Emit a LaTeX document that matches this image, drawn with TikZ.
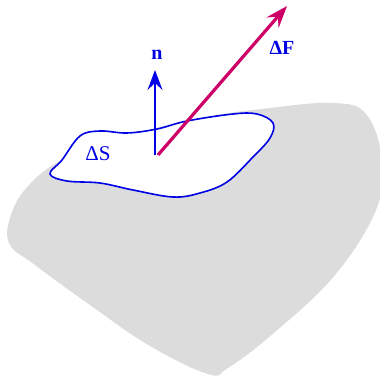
\documentclass[tikz,border=0pt]{standalone}
\usepackage{fontspec}
\setmainfont{Liberation Serif}
\usetikzlibrary{arrows.meta}
\definecolor{blueline}{RGB}{0,0,230}
\definecolor{redline}{RGB}{204,0,102}
\definecolor{graybody}{RGB}{220,220,220}
\tikzset{
  lbl/.style={text=blueline, font=\fontsize{21}{21}\selectfont, inner sep=0pt},
  normalarrow/.style={draw=blueline, line width=1.6pt, -{Stealth[length=20pt, width=15pt, inset=7pt]}},
  forcearrow/.style={draw=redline, line width=3.2pt, -{Stealth[length=22pt, width=16pt, inset=8pt]}}
}
\begin{document}
\begin{tikzpicture}[x=1pt, y=-1pt]
\useasboundingbox (0,0) rectangle (380,377);
% body
\fill[graybody] plot[smooth cycle, tension=0.65] coordinates {
  (120,138) (200,118) (270,108) (333,103) (366,114) (382,160)
  (376,210) (335,275) (275,332) (228,368) (208,374) (150,346)
  (90,305) (35,265) (9,243) (12,212) (30,184) (62,160)};
% surface patch
\draw[blueline, line width=1.6pt, fill=white] plot[smooth cycle, tension=0.6] coordinates {
  (50,174) (62,160) (80,136) (100,131) (127,133) (157,129) (187,121)
  (233,114) (257,114) (273,123) (270,138) (253,157) (227,182)
  (200,193) (173,197) (133,190) (100,183) (67,181)};
\coordinate (o) at (155,155);
\coordinate (ntip) at (155,70);
\coordinate (fo) at (158,155);
\coordinate (ftip) at (287,6);
\draw[normalarrow] (o) -- (ntip);
\draw[forcearrow] (fo) -- (ftip);
\node[lbl, font=\fontsize{20}{20}\selectfont\bfseries] (n) at (157,55) {n};
\node[lbl, font=\fontsize{20}{20}\selectfont\bfseries] (dF) at (282,48) {ΔF};
\node[lbl] (dS) at (98,154) {ΔS};
\end{tikzpicture}
\end{document}
